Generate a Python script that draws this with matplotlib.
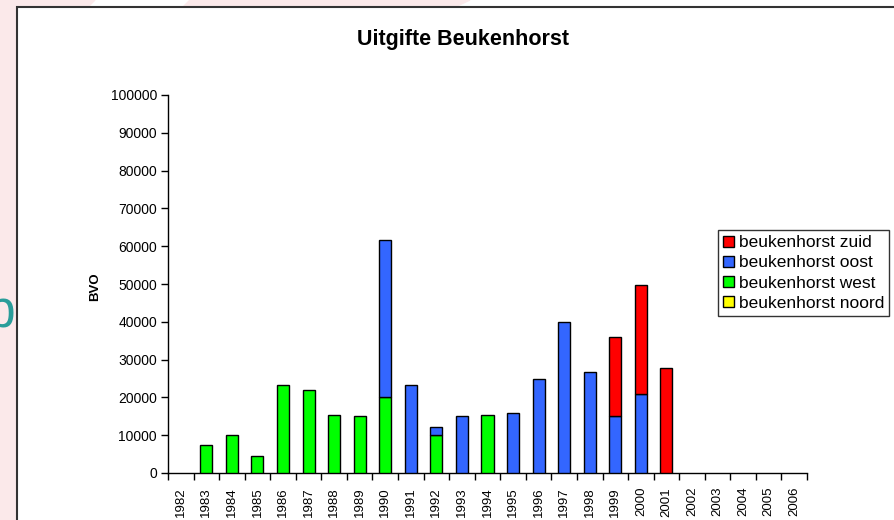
import matplotlib
matplotlib.use("Agg")
import matplotlib.pyplot as plt
from matplotlib.patches import Rectangle, Polygon, Patch
from matplotlib.transforms import Bbox
import numpy as np

plt.rcParams['font.family'] = ['Liberation Sans', 'DejaVu Sans']

years = [str(y) for y in range(1982, 2007)]
noord = [0]*25
west = [0, 7300, 10000, 4500, 23300, 22000, 15300, 15000, 20000, 0, 10000, 0, 15300,
        0, 0, 0, 0, 0, 0, 0, 0, 0, 0, 0, 0]
oost = [0, 0, 0, 0, 0, 0, 0, 0, 41600, 23300, 2100, 15000, 0,
        16000, 25000, 40000, 26800, 15000, 20800, 0, 0, 0, 0, 0, 0]
zuid = [0, 0, 0, 0, 0, 0, 0, 0, 0, 0, 0, 0, 0,
        0, 0, 0, 0, 21000, 29000, 27800, 0, 0, 0, 0, 0]

series = [("beukenhorst noord", noord, "#ffff00"),
          ("beukenhorst west", west, "#00ff00"),
          ("beukenhorst oost", oost, "#3366ff"),
          ("beukenhorst zuid", zuid, "#ff0000")]

W, H = 895, 520
fig = plt.figure(figsize=(W/100, H/100), dpi=100)
fig.patch.set_facecolor("white")

# slide background remnants
pink = "#fbe9ea"
fig.patches.append(Rectangle((0, 0), 17/W, 1, transform=fig.transFigure, color=pink, zorder=0))
fig.patches.append(Polygon([(0, 1), (95/W, 1), (88/W, 1-7/H), (0, 1-7/H)], closed=True,
                           transform=fig.transFigure, color=pink, zorder=0))
fig.patches.append(Polygon([(190/W, 1), (470/W, 1), (455/W, 1-7/H), (183/W, 1-7/H)], closed=True,
                           transform=fig.transFigure, color=pink, zorder=0))
ptxt = fig.text(-13/W, 1-327/H, "p", fontsize=37, color="#2a9d9a", ha="left", va="baseline",
                zorder=1)
ptxt.set_clip_box(Bbox.from_extents(0, 0, 17, H))

# chart frame
fig.patches.append(Rectangle((17/W, -0.01), 1.0, 1-7/H+0.01, transform=fig.transFigure,
                             facecolor="white", edgecolor="#333333", linewidth=1.5, zorder=2))

ax = fig.add_axes([168/W, 1-473/H, (807-168)/W, (473-95)/H])
ax.set_zorder(3)
ax.patch.set_alpha(0)

x = np.arange(len(years))
bottom = np.zeros(len(years))
for name, vals, col in series:
    v = np.array(vals, dtype=float)
    mask = v > 0
    ax.bar(x[mask], v[mask], bottom=bottom[mask], width=0.47, color=col,
           edgecolor="black", linewidth=1.0, zorder=3)
    bottom += v

ax.set_xlim(-0.5, len(years)-0.5)
ax.set_ylim(0, 100000)
ax.set_yticks(np.arange(0, 100001, 10000))
ax.set_yticklabels([str(v) for v in range(0, 100001, 10000)], fontsize=10)
ax.set_xticks(x)
ax.set_xticklabels(years, rotation=90, fontsize=9.5)
ax.set_xticks(np.arange(-0.5, len(years)), minor=True)
ax.tick_params(axis='x', which='major', length=0, pad=10)
ax.tick_params(axis='x', which='minor', length=5, width=1, direction='out')
ax.tick_params(axis='y', length=5, width=1, direction='out', pad=3)
for s in ["top", "right"]:
    ax.spines[s].set_visible(False)
for s in ["left", "bottom"]:
    ax.spines[s].set_linewidth(1.0)

fig.text(95/W, 1-287/H, "BVO", rotation=90, ha="center", va="center",
         fontsize=9.5, fontweight="bold")
fig.text(463/W, 1-40/H, "Uitgifte Beukenhorst", ha="center", va="center",
         fontsize=15.5, fontweight="bold", zorder=4)

handles = [Patch(facecolor=c, edgecolor="black", label=n) for n, _, c in reversed(series)]
leg = fig.legend(handles=handles, loc="upper left", bbox_to_anchor=(718/W, 1-230/H),
                 frameon=True, fancybox=False, fontsize=12.5, handlelength=0.6,
                 handleheight=0.6, handletextpad=0.3, borderpad=0.3, labelspacing=0.3,
                 borderaxespad=0)
leg.get_frame().set_edgecolor("black")
leg.get_frame().set_linewidth(1.0)
leg.set_zorder(5)

fig.savefig("out.png", dpi=100)
